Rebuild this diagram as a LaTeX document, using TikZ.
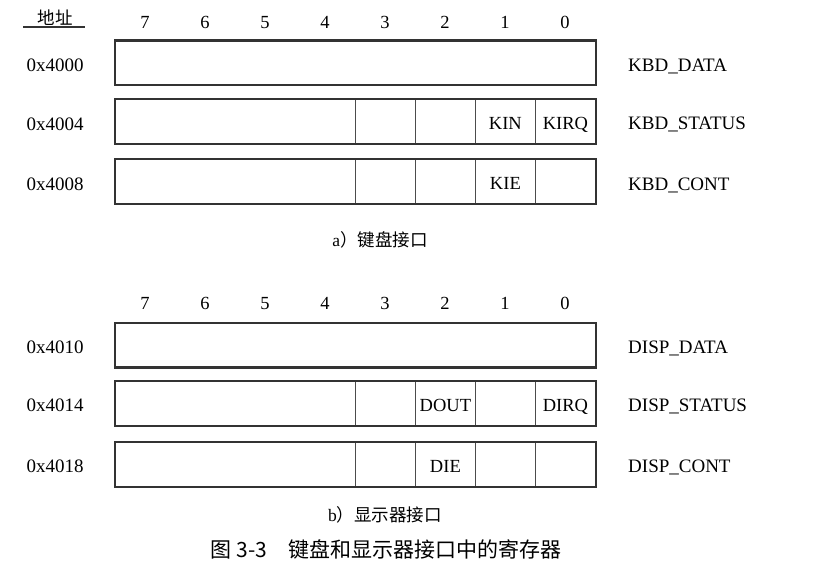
\documentclass[tikz,border=0pt]{standalone}
\usepackage{fontspec}
\setmainfont{Liberation Serif}
\newfontfamily\cjk{Noto Sans CJK SC}
\begin{document}
\begin{tikzpicture}[x=1pt,y=-1pt,
  cell/.style={draw=black!70, line width=0.8pt, minimum height=44pt, inner sep=0pt, anchor=west, text height=16pt, text depth=0pt, font=\fontsize{18.5}{20}\selectfont},
  frame/.style={draw=black!80, line width=2.2pt},
  lbl/.style={font=\fontsize{19}{21}\selectfont, inner sep=0pt, text height=16pt, text depth=0pt},
  bitno/.style={font=\fontsize{18.5}{20}\selectfont, inner sep=0pt, text height=16pt, text depth=0pt},
  subcap/.style={font=\fontsize{17.5}{20}\selectfont, inner sep=0pt},
  figcap/.style={font=\fontsize{21}{24}\selectfont, inner sep=0pt}]
\useasboundingbox (0,0) rectangle (813,583);

% header
\node[font=\cjk\fontsize{17.5}{20}\selectfont, inner sep=0pt] (head) at (55,17.5) {地址};
\coordinate (ula) at (23,27);
\coordinate (ulb) at (85,27);
\draw[line width=1.2pt, black!80] (ula) -- (ulb);

% bit numbers (top)
\foreach \b in {7,...,0} {
  \node[bitno] (ta\b) at ({145+60*(7-\b)},20.5) {\b};
}
% bit numbers (bottom)
\foreach \b in {7,...,0} {
  \node[bitno] (tb\b) at ({145+60*(7-\b)},301.5) {\b};
}

% ---------- KBD_DATA ----------
\node[cell, minimum width=480pt] (kd) at (115,63) {};
\draw[frame] (kd.north west) rectangle (kd.south east);
\node[lbl] (kda) at (55,64) {0x4000};
\node[lbl, anchor=west] (kdn) at (628,63.5) {KBD\_DATA};

% ---------- KBD_STATUS ----------
\node[cell, minimum width=240pt] (ks7) at (115,121.5) {};
\node[cell, minimum width=60pt] (ks3) at (355,121.5) {};
\node[cell, minimum width=60pt] (ks2) at (415,121.5) {};
\node[cell, minimum width=60pt] (ks1) at (475,121.5) {KIN};
\node[cell, minimum width=60pt] (ks0) at (535,121.5) {KIRQ};
\draw[frame] (ks7.north west) rectangle (ks0.south east);
\node[lbl] (ksa) at (55,122) {0x4004};
\node[lbl, anchor=west] (ksn) at (628,121.5) {KBD\_STATUS};

% ---------- KBD_CONT ----------
\node[cell, minimum width=240pt] (kc7) at (115,181.5) {};
\node[cell, minimum width=60pt] (kc3) at (355,181.5) {};
\node[cell, minimum width=60pt] (kc2) at (415,181.5) {};
\node[cell, minimum width=60pt] (kc1) at (475,181.5) {KIE};
\node[cell, minimum width=60pt] (kc0) at (535,181.5) {};
\draw[frame] (kc7.north west) rectangle (kc0.south east);
\node[lbl] (kca) at (55,182) {0x4008};
\node[lbl, anchor=west] (kcn) at (628,182) {KBD\_CONT};

\node[subcap] (capa) at (380,240) {a\cjk）键盘接口};

% ---------- DISP_DATA ----------
\node[cell, minimum width=480pt] (dd) at (115,345) {};
\draw[frame] (dd.north west) rectangle (dd.south east);
\node[lbl] (dda) at (55,345.5) {0x4010};
\node[lbl, anchor=west] (ddn) at (628,345.5) {DISP\_DATA};

% ---------- DISP_STATUS ----------
\node[cell, minimum width=240pt] (ds7) at (115,403.5) {};
\node[cell, minimum width=60pt] (ds3) at (355,403.5) {};
\node[cell, minimum width=60pt] (ds2) at (415,403.5) {DOUT};
\node[cell, minimum width=60pt] (ds1) at (475,403.5) {};
\node[cell, minimum width=60pt] (ds0) at (535,403.5) {DIRQ};
\draw[frame] (ds7.north west) rectangle (ds0.south east);
\node[lbl] (dsa) at (55,403.5) {0x4014};
\node[lbl, anchor=west] (dsn) at (628,403.5) {DISP\_STATUS};

% ---------- DISP_CONT ----------
\node[cell, minimum width=240pt] (dc7) at (115,464.5) {};
\node[cell, minimum width=60pt] (dc3) at (355,464.5) {};
\node[cell, minimum width=60pt] (dc2) at (415,464.5) {DIE};
\node[cell, minimum width=60pt] (dc1) at (475,464.5) {};
\node[cell, minimum width=60pt] (dc0) at (535,464.5) {};
\draw[frame] (dc7.north west) rectangle (dc0.south east);
\node[lbl] (dca) at (55,464.5) {0x4018};
\node[lbl, anchor=west] (dcn) at (628,464.5) {DISP\_CONT};

\node[subcap] (capb) at (385,515) {b\cjk）显示器接口};

\node[figcap] (fig) at (386,549) {\cjk 图 3-3\quad 键盘和显示器接口中的寄存器};
\end{tikzpicture}
\end{document}
